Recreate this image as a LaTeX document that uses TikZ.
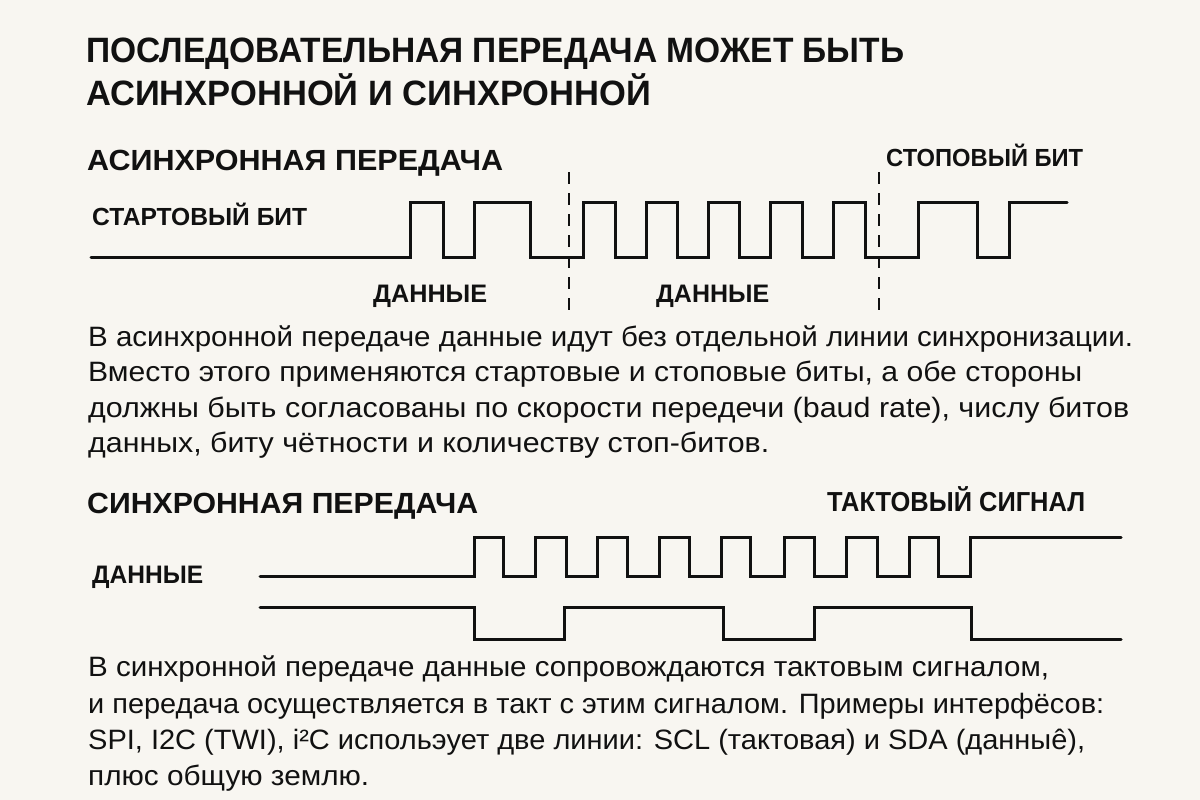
\documentclass[tikz,border=0pt]{standalone}
\usepackage{fontspec}
\setmainfont{Liberation Sans}
\usepackage{graphicx}
\definecolor{bg}{RGB}{248,246,241}
\definecolor{ink}{RGB}{17,17,17}
\newcommand\fitw[3]{\resizebox{#1}{\height}{\fontsize{#2}{#2}\selectfont #3}}
\newcommand\fith[3]{\resizebox{#1}{1.1\height}{\fontsize{#2}{#2}\selectfont #3}}
\tikzset{
  head/.style={anchor=base west, inner sep=0pt, text=ink, font=\bfseries},
  para/.style={anchor=base west, inner sep=0pt, text=ink},
  wave/.style={line width=3pt, line join=miter, line cap=round, draw=ink},
  sepline/.style={line width=1.5pt, dash pattern=on 12pt off 9pt, draw=ink}
}
\begin{document}
\begin{tikzpicture}[x=1pt,y=-1pt]
\fill[bg] (0,0) rectangle (1200,800);
\useasboundingbox (0,0) rectangle (1200,800);

% titles
\node[head] (t1) at (86,63) {\fith{818pt}{32}{ПОСЛЕДОВАТЕЛЬНАЯ ПЕРЕДАЧА МОЖЕТ БЫТЬ}};
\node[head] (t2) at (86,106) {\fith{565pt}{32}{АСИНХРОННОЙ И СИНХРОННОЙ}};

% asynchronous
\node[head] (h1) at (87,170) {\fith{416pt}{26.5}{АСИНХРОННАЯ ПЕРЕДАЧА}};
\node[head] (stop) at (886,166) {\fith{197pt}{22.5}{СТОПОВЫЙ БИТ}};
\node[head] (start) at (92,225) {\fith{215pt}{22.5}{СТАРТОВЫЙ БИТ}};
\node[head] (d1) at (373,302) {\fith{114pt}{23}{ДАННЫЕ}};
\node[head] (d2) at (656,302) {\fith{113pt}{23}{ДАННЫЕ}};

\draw[sepline] (569,172) -- (569,313);
\draw[sepline] (879,172) -- (879,313);

\draw[wave] (91,257) -- (410,257) -- (410,202) -- (443,202) -- (443,257)
  -- (474,257) -- (474,202) -- (530,202) -- (530,257)
  -- (583,257) -- (583,202) -- (615,202) -- (615,257)
  -- (646,257) -- (646,202) -- (677,202) -- (677,257)
  -- (708,257) -- (708,202) -- (739,202) -- (739,257)
  -- (770,257) -- (770,202) -- (802,202) -- (802,257)
  -- (833,257) -- (833,202) -- (865,202) -- (865,257)
  -- (918,257) -- (918,202) -- (977,202) -- (977,257)
  -- (1009,257) -- (1009,202) -- (1067,202);

\node[para] (p1) at (88,346) {\fitw{1045pt}{28}{В асинхронной передаче данные идут без отдельной линии синхронизации.}};
\node[para] (p2) at (88,381) {\fitw{994pt}{28}{Вместо этого применяются стартовые и стоповые биты, а обе стороны}};
\node[para] (p3) at (88,417) {\fitw{1041pt}{28}{должны быть согласованы по скорости передечи (baud rate), числу битов}};
\node[para] (p4) at (88,452) {\fitw{681pt}{28}{данных, биту чётности и количеству стоп-битов.}};

% synchronous
\node[head] (h2) at (87,513) {\fith{391pt}{26.5}{СИНХРОННАЯ ПЕРЕДАЧА}};
\node[head] (clk) at (827,511) {\fith{258pt}{25}{ТАКТОВЫЙ СИГНАЛ}};
\node[head] (d3) at (92,583) {\fith{111pt}{23}{ДАННЫЕ}};

\draw[wave] (260,576) -- (474,576) -- (474,537) -- (503,537) -- (503,576)
  -- (535,576) -- (535,537) -- (566,537) -- (566,576)
  -- (597,576) -- (597,537) -- (627,537) -- (627,576)
  -- (659,576) -- (659,537) -- (689,537) -- (689,576)
  -- (721,576) -- (721,537) -- (750,537) -- (750,576)
  -- (784,576) -- (784,537) -- (814,537) -- (814,576)
  -- (846,576) -- (846,537) -- (877,537) -- (877,576)
  -- (909,576) -- (909,537) -- (938,537) -- (938,576)
  -- (970,576) -- (970,537) -- (1121,537);

\draw[wave] (260,607) -- (474,607) -- (474,639) -- (564,639) -- (564,607)
  -- (723,607) -- (723,639) -- (814,639) -- (814,607)
  -- (971,607) -- (971,639) -- (1121,639);

\node[para] (q1) at (88,676) {\fitw{961pt}{28}{В синхронной передаче данные сопровождаются тактовым сигналом,}};
\node[para] (q2) at (88,713) {\fitw{1016pt}{28}{и передача осуществляется в такт с этим сигналом. Примеры интерфёсов:}};
\node[para] (q3) at (88,749) {\fitw{997pt}{28}{SPI, I2C (TWI), i²C испольэует две линии: SCL (тактовая) и SDA (данныê),}};
\node[para] (q4) at (88,785) {\fitw{281pt}{28}{плюс общую землю.}};
\end{tikzpicture}
\end{document}
